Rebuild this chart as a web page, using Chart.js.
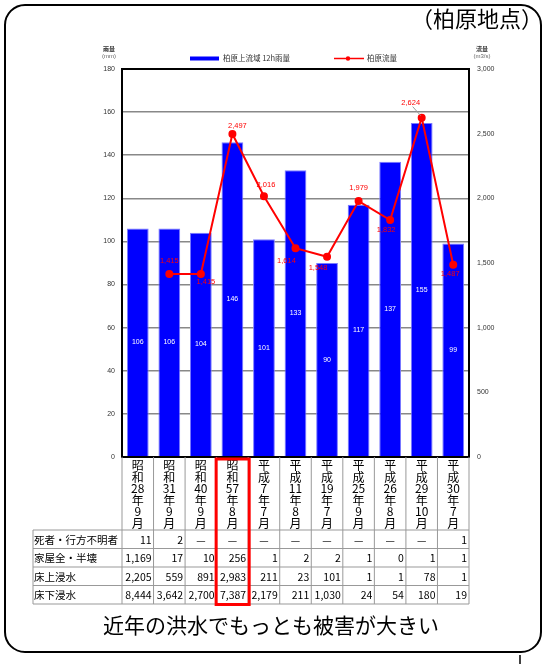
<!DOCTYPE html>
<html lang="ja">
<head>
<meta charset="utf-8">
<script src="https://cdn.jsdelivr.net/npm/chart.js@4.4.0/dist/chart.umd.min.js"></script>
<style>
  body { margin: 0; background: #fff; }
  #wrap { position: relative; width: 547px; height: 664px; }
</style>
</head>
<body>
<div id="wrap"><canvas id="chart" width="547" height="664"></canvas></div>
<script>
// --- Data ---
const categories = ['昭和28年9月', '昭和31年9月', '昭和40年9月', '昭和57年8月', '平成7年7月', '平成11年8月',
                    '平成19年7月', '平成25年9月', '平成26年8月', '平成29年10月', '平成30年7月'];
const rainfall = [106, 106, 104, 146, 101, 133, 90, 117, 137, 155, 99];          // 柏原上流域 12h雨量 (mm)
const discharge = [null, 1415, 1415, 2497, 2016, 1614, 1548, 1979, 1832, 2624, 1487]; // 柏原流量 (m3/s)

const tableRows = ['死者・行方不明者', '家屋全・半壊', '床上浸水', '床下浸水'];
const deaths = [11, 2, null, null, null, null, null, null, null, null, 1];
const housesDestroyed = [1169, 17, 10, 256, 1, 2, 2, 1, 0, 1, 1];
const floodAboveFloor = [2205, 559, 891, 2983, 211, 23, 101, 1, 1, 78, 1];
const floodBelowFloor = [8444, 3642, 2700, 7387, 2179, 211, 1030, 24, 54, 180, 19];
const tableValues = [deaths, housesDestroyed, floodAboveFloor, floodBelowFloor];

// --- Style ---
const JP = "'Noto Sans CJK JP', sans-serif";
const SMALL = "'Liberation Sans', Arial, sans-serif";
const highlight = 3;
// label offsets for the discharge values [dx, dy]
const lineLabelOffset = [null, [0, -13], [5, 8], [5, -8], [2, -11], [-9, 13], [-9, 11], [0, -13], [-4, 10], [-11, -15], [-3, 9]];
const leaderIndex = 9;

const fmt = v => v.toLocaleString('en-US');

const decor = {
    id: 'decor',
    afterDatasetsDraw(chart) {
        const ctx = chart.ctx, a = chart.chartArea;
        ctx.save();
        // bar values
        ctx.font = '7px ' + SMALL;
        ctx.fillStyle = '#fff';
        ctx.textAlign = 'center';
        ctx.textBaseline = 'middle';
        chart.getDatasetMeta(0).data.forEach((el, i) => {
            ctx.fillText(rainfall[i], el.x, (el.y + el.base) / 2);
        });
        // frame
        ctx.strokeStyle = '#000';
        ctx.lineWidth = 2;
        ctx.strokeRect(a.left, a.top, a.right - a.left, a.bottom - a.top);
        // discharge labels
        ctx.font = '7.5px ' + SMALL;
        chart.getDatasetMeta(1).data.forEach((el, i) => {
            if (discharge[i] == null) return;
            const [dx, dy] = lineLabelOffset[i];
            if (i === leaderIndex) {
                ctx.strokeStyle = '#999';
                ctx.lineWidth = 1;
                ctx.beginPath();
                ctx.moveTo(el.x + dx + 2, el.y + dy + 4);
                ctx.lineTo(el.x - 1, el.y - 2);
                ctx.stroke();
            }
            ctx.fillStyle = '#ff0000';
            ctx.fillText(fmt(discharge[i]), el.x + dx, el.y + dy);
        });
        ctx.restore();
    },
    afterDraw(chart) {
        const ctx = chart.ctx, a = chart.chartArea;
        const n = categories.length;
        const colW = (a.right - a.left) / n;
        const tableLeft = 33;
        const rowTop = 530, rowH = 18.5;
        const tableBottom = rowTop + rowH * tableRows.length;
        ctx.save();

        // table grid
        ctx.strokeStyle = '#999';
        ctx.lineWidth = 1;
        ctx.beginPath();
        for (let r = 0; r <= tableRows.length; r++) {
            const y = rowTop + r * rowH;
            ctx.moveTo(tableLeft, y); ctx.lineTo(a.right, y);
        }
        ctx.moveTo(tableLeft, rowTop); ctx.lineTo(tableLeft, tableBottom);
        for (let i = 0; i <= n; i++) {
            const x = a.left + i * colW;
            ctx.moveTo(x, a.bottom); ctx.lineTo(x, tableBottom);
        }
        ctx.stroke();

        // table text
        ctx.fillStyle = '#000';
        ctx.textBaseline = 'middle';
        tableRows.forEach((name, r) => {
            const y = rowTop + r * rowH + rowH / 2 + 0.5;
            ctx.textAlign = 'left';
            ctx.font = '10.5px ' + JP;
            ctx.fillText(name, tableLeft + 1, y);
            ctx.font = '10.5px ' + JP;
            tableValues[r].forEach((v, i) => {
                const x0 = a.left + i * colW;
                if (v == null) {
                    ctx.textAlign = 'center';
                    ctx.fillText('—', x0 + colW / 2, y);
                } else {
                    ctx.textAlign = 'right';
                    ctx.fillText(fmt(v), x0 + colW - 2, y);
                }
            });
        });

        // highlight box
        ctx.strokeStyle = '#ff0000';
        ctx.lineWidth = 3;
        ctx.strokeRect(a.left + highlight * colW - 0.5, a.bottom + 2, colW + 1.5, tableBottom - a.bottom - 1.5);

        // axis titles
        ctx.fillStyle = '#333';
        ctx.textAlign = 'center';
        ctx.font = 'bold 6px ' + JP;
        ctx.fillText('雨量', 109, 49);
        ctx.fillText('流量', 482, 49);
        ctx.font = '6px ' + SMALL;
        ctx.fillStyle = '#666';
        ctx.fillText('(mm)', 109, 56);
        ctx.fillText('(m3/s)', 482, 56);

        // legend
        ctx.fillStyle = '#0000ff';
        ctx.fillRect(190, 56.5, 29, 4);
        ctx.strokeStyle = '#ff0000';
        ctx.lineWidth = 1.5;
        ctx.beginPath(); ctx.moveTo(334, 58.5); ctx.lineTo(364, 58.5); ctx.stroke();
        ctx.fillStyle = '#ff0000';
        ctx.beginPath(); ctx.arc(348, 58.5, 2.2, 0, Math.PI * 2); ctx.fill();
        ctx.fillStyle = '#333';
        ctx.textAlign = 'left';
        ctx.font = '7.5px ' + JP;
        ctx.fillText('柏原上流域 12h雨量', 223, 58.5);
        ctx.fillText('柏原流量', 367, 58.5);

        // frame of the slide
        ctx.strokeStyle = '#000';
        ctx.lineWidth = 2;
        ctx.beginPath();
        ctx.roundRect(5, 5, 536, 647, 20);
        ctx.stroke();
        ctx.lineWidth = 1.5;
        ctx.beginPath(); ctx.moveTo(520, 655); ctx.lineTo(520, 664); ctx.stroke();

        // titles
        ctx.fillStyle = '#000';
        ctx.textAlign = 'right';
        ctx.font = '22px ' + JP;
        ctx.fillText('（柏原地点）', 543, 19);
        ctx.textAlign = 'center';
        ctx.font = '21px ' + JP;
        ctx.fillText('近年の洪水でもっとも被害が大きい', 271, 625);
        ctx.restore();
    }
};

new Chart(document.getElementById('chart').getContext('2d'), {
    type: 'bar',
    data: {
        labels: categories.map(c => c.match(/\d+|./g)),
        datasets: [{
            type: 'bar',
            label: '柏原上流域 12h雨量',
            data: rainfall,
            yAxisID: 'y',
            backgroundColor: '#0000ff',
            borderColor: '#7a7aff',
            borderWidth: 1,
            barPercentage: 0.69,
            categoryPercentage: 1,
            order: 2
        }, {
            type: 'line',
            label: '柏原流量',
            data: discharge,
            yAxisID: 'y1',
            borderColor: '#ff0000',
            backgroundColor: '#ff0000',
            borderWidth: 2,
            pointRadius: 3,
            pointBackgroundColor: '#ff0000',
            tension: 0,
            order: 1
        }]
    },
    options: {
        responsive: false,
        animation: false,
        layout: { padding: { left: 82, right: 38, top: 69, bottom: 134 } },
        plugins: { legend: { display: false }, tooltip: { enabled: false } },
        scales: {
            x: {
                grid: { display: false, drawTicks: false },
                border: { display: false },
                ticks: {
                    autoSkip: false, maxRotation: 0, minRotation: 0, padding: 3,
                    color: '#000', font: { size: 12, family: JP, lineHeight: '11.5px' }
                },
                afterFit(s) { s.height = 73; }
            },
            y: {
                position: 'left', min: 0, max: 180,
                grid: { color: '#888', lineWidth: 1.5, drawTicks: false },
                border: { display: false },
                ticks: { stepSize: 20, padding: 7, color: '#333', font: { size: 7, family: SMALL } },
                afterFit(s) { s.width = 40; }
            },
            y1: {
                position: 'right', min: 0, max: 3000,
                grid: { display: false, drawTicks: false },
                border: { display: false },
                ticks: { stepSize: 500, padding: 8, color: '#333', font: { size: 7, family: SMALL }, callback: v => fmt(v) },
                afterFit(s) { s.width = 40; }
            }
        }
    },
    plugins: [decor]
});
</script>
</body>
</html>
